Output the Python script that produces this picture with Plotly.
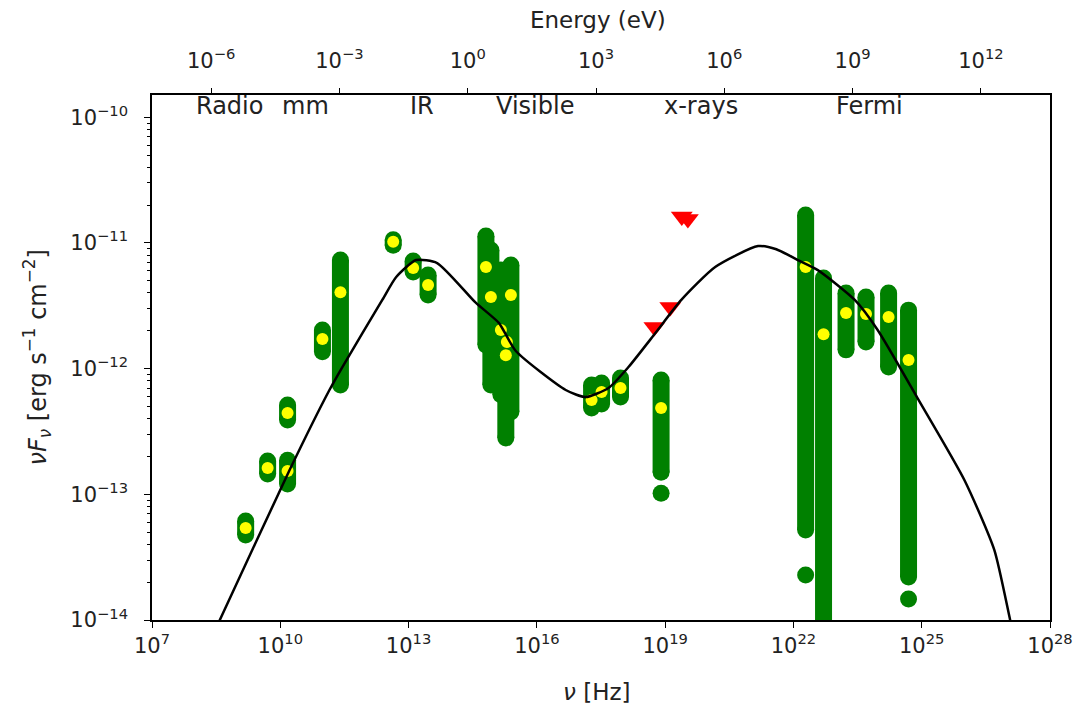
import plotly.graph_objects as go

# Spectral energy distribution: nu F_nu versus frequency

# Measured points: frequency [Hz], flux and its spread (low / high)
obs_nu = [1.55e9, 5.06e9, 1.48e10, 1.48e10, 9.68e10, 2.55e11, 4.37e12, 1.28e13, 2.86e13,
          6.44e14, 8.41e14, 1.44e15, 2.47e15, 1.99e15, 1.88e15,
          1.905e17, 3.26e17, 9.04e17, 8.04e18,
          1.93e22, 5.06e22, 1.70e23, 4.98e23, 1.68e24, 4.92e24]
obs_flux = [5.4e-14, 1.62e-13, 1.53e-13, 4.44e-13, 1.72e-12, 4.06e-12, 1.02e-11, 6.31e-12, 4.62e-12,
            6.43e-12, 3.72e-12, 2.03e-12, 3.86e-12, 1.63e-12, 1.28e-12,
            5.62e-13, 6.52e-13, 7.02e-13, 4.86e-13,
            6.43e-12, 1.88e-12, 2.77e-12, 2.72e-12, 2.58e-12, 1.17e-12]
obs_lo = [4.74e-14, 1.45e-13, 1.21e-13, 3.90e-13, 1.36e-12, 7.41e-13, 9.6e-12, 5.86e-12, 3.86e-12,
          1.54e-12, 7.4e-13, 6.2e-13, 4.52e-13, 5.62e-13, 2.81e-13,
          4.86e-13, 5.22e-13, 5.94e-13, 1.50e-13,
          5.2e-14, 5.0e-15, 1.41e-12, 1.63e-12, 1.03e-12, 2.2e-14]
obs_hi = [6.14e-14, 1.84e-13, 1.87e-13, 5.13e-13, 2.03e-12, 7.31e-12, 1.06e-11, 7.18e-12, 5.56e-12,
          1.135e-11, 8.8e-12, 6.08e-12, 6.67e-12, 3.52e-12, 4.22e-12,
          7.41e-13, 7.67e-13, 8.41e-13, 8.11e-13,
          1.67e-11, 5.26e-12, 3.99e-12, 3.72e-12, 3.99e-12, 2.92e-12]

# Isolated low samples below some of the columns
extra_nu = [8.04e18, 1.93e22, 4.92e24]
extra_flux = [1.02e-13, 2.28e-14, 1.47e-14]

# X-ray upper limits
ul_nu = [5.6e18, 1.32e19, 2.45e19, 3.4e19]
ul_flux = [2.14e-12, 3.09e-12, 1.62e-11, 1.55e-11]

# Model curve
model_nu = [2.51e8, 3.85e8, 1.65e10, 1.41e11, 2.83e11, 2.43e12, 5.14e12, 1.50e13, 4.65e13,
            3.77e14, 1.29e15, 3.22e15, 4.72e16, 1.38e17, 4.74e17, 1.39e18, 5.92e18, 2.39e19,
            1.48e20, 1.49e21, 3.98e21, 1.27e22, 3.72e22, 2.72e23, 9.33e23, 7.98e24, 9.95e25,
            4.98e26, 1.17e27, 1.48e27]
model_flux = [7.3e-15, 1.0e-14, 1.56e-13, 6.76e-13, 1.03e-12, 3.52e-12, 5.36e-12, 7.31e-12, 6.92e-12,
              3.33e-12, 2.31e-12, 1.38e-12, 6.76e-13, 5.94e-13, 7.02e-13, 1.03e-12, 1.92e-12, 3.52e-12,
              6.43e-12, 9.44e-12, 8.9e-12, 7.31e-12, 6.08e-12, 3.52e-12, 2.03e-12, 5.83e-13, 1.30e-13,
              3.61e-14, 1.0e-14, 7.1e-15]

# Band names written along the top of the plot (log10 of frequency)
band_names = ["Radio", "mm", "IR", "Visible", "x-rays", "Fermi"]
band_lognu = [8.82, 10.60, 13.32, 15.95, 19.84, 23.79]

# Tick labels
nu_ticks = [1e7, 1e10, 1e13, 1e16, 1e19, 1e22, 1e25, 1e28]
nu_ticktext = ["10<sup>7</sup>", "10<sup>10</sup>", "10<sup>13</sup>", "10<sup>16</sup>",
               "10<sup>19</sup>", "10<sup>22</sup>", "10<sup>25</sup>", "10<sup>28</sup>"]
ev_ticks = [1e-6, 1e-3, 1e0, 1e3, 1e6, 1e9, 1e12]
ev_ticktext = ["10<sup>−6</sup>", "10<sup>−3</sup>", "10<sup>0</sup>", "10<sup>3</sup>",
               "10<sup>6</sup>", "10<sup>9</sup>", "10<sup>12</sup>"]
flux_ticks = [1e-14, 1e-13, 1e-12, 1e-11, 1e-10]
flux_ticktext = ["10<sup>−14</sup>", "10<sup>−13</sup>", "10<sup>−12</sup>",
                 "10<sup>−11</sup>", "10<sup>−10</sup>"]
# Minor ticks between decades on the flux axis
flux_minor = [k * t for t in flux_ticks for k in range(2, 10)]

LOG_H = -14.3835  # log10 of Planck constant in eV s
NU_RANGE = [7, 28]
FLUX_RANGE = [-14, -9.823]

FONT = "DejaVu Sans"
GREEN = "#008000"
MS = 17

# Columns: a thick segment from low to high, capped by round markers
col_x, col_y = [], []
for nu, lo, hi in zip(obs_nu, obs_lo, obs_hi):
    col_x += [nu, nu, None]
    col_y += [lo, hi, None]

fig = go.Figure()
fig.add_trace(go.Scatter(x=col_x, y=col_y, mode="lines+markers",
                         line=dict(color=GREEN, width=MS),
                         marker=dict(color=GREEN, size=MS, line=dict(width=0)),
                         showlegend=False, hoverinfo="skip"))
fig.add_trace(go.Scatter(x=extra_nu, y=extra_flux, mode="markers",
                         marker=dict(color=GREEN, size=MS, line=dict(width=0)),
                         showlegend=False))
fig.add_trace(go.Scatter(x=obs_nu, y=obs_flux, mode="markers",
                         marker=dict(color="#ffff00", size=12, line=dict(width=0)),
                         showlegend=False))
fig.add_trace(go.Scatter(x=ul_nu, y=ul_flux, mode="markers",
                         marker=dict(color="#ff0000", size=19, symbol="triangle-down",
                                     line=dict(width=0)),
                         showlegend=False))
fig.add_trace(go.Scatter(x=model_nu, y=model_flux, mode="lines",
                         line=dict(color="black", width=2.5, shape="spline", smoothing=0.6),
                         showlegend=False))
# Registers the energy axis along the top
fig.add_trace(go.Scatter(x=[], y=[], xaxis="x2", yaxis="y", showlegend=False))

tickfont = dict(family=FONT, size=21, color="#222")
fig.update_layout(
    width=1085, height=717,
    margin=dict(l=152, r=32, t=95, b=97),
    paper_bgcolor="white", plot_bgcolor="white",
    font=dict(family=FONT, color="black"),
    xaxis=dict(type="log", range=NU_RANGE, tickvals=nu_ticks, ticktext=nu_ticktext,
               showgrid=False, zeroline=False, showline=True, linecolor="black",
               linewidth=1.5, mirror=True, ticks="outside", ticklen=6, tickwidth=1.2,
               tickcolor="black", tickfont=tickfont),
    xaxis2=dict(type="log", overlaying="x", side="top",
                range=[NU_RANGE[0] + LOG_H, NU_RANGE[1] + LOG_H],
                tickvals=ev_ticks, ticktext=ev_ticktext, showgrid=False, zeroline=False,
                ticks="outside", ticklen=6, tickwidth=1.2, tickcolor="black",
                tickfont=tickfont, showline=False, ticklabelstandoff=12),
    yaxis=dict(type="log", range=FLUX_RANGE, tickvals=flux_ticks, ticktext=flux_ticktext,
               showgrid=False, zeroline=False, showline=True, linecolor="black",
               linewidth=1.5, mirror=True, ticks="outside", ticklen=6, tickwidth=1.2,
               tickcolor="black", tickfont=tickfont, ticklabelstandoff=12,
               minor=dict(tickmode="array", tickvals=flux_minor, ticks="outside",
                          ticklen=3.5, tickwidth=1, tickcolor="black", showgrid=False)),
)

annotations = []
for name, lx in zip(band_names, band_lognu):
    annotations.append(dict(x=lx, y=0.979, xref="x", yref="paper", text=name,
                            showarrow=False, font=dict(family=FONT, size=24, color="#222"),
                            xanchor="center", yanchor="middle"))
annotations += [
    dict(x=0.495, y=-0.137, xref="paper", yref="paper", text="<i>ν</i> [Hz]",
         showarrow=False, font=dict(family=FONT, size=23, color="#222"),
         xanchor="center", yanchor="middle"),
    dict(x=0.497, y=1.143, xref="paper", yref="paper", text="Energy (eV)",
         showarrow=False, font=dict(family=FONT, size=23, color="#222"),
         xanchor="center", yanchor="middle"),
    dict(x=-0.1276, y=0.501, xref="paper", yref="paper",
         text="<i>νF<sub>ν</sub></i> [erg s<sup>−1</sup> cm<sup>−2</sup>]",
         showarrow=False, textangle=-90, font=dict(family=FONT, size=24, color="#222"),
         xanchor="center", yanchor="middle"),
]
fig.update_layout(annotations=annotations)

fig.write_html("out.html")
